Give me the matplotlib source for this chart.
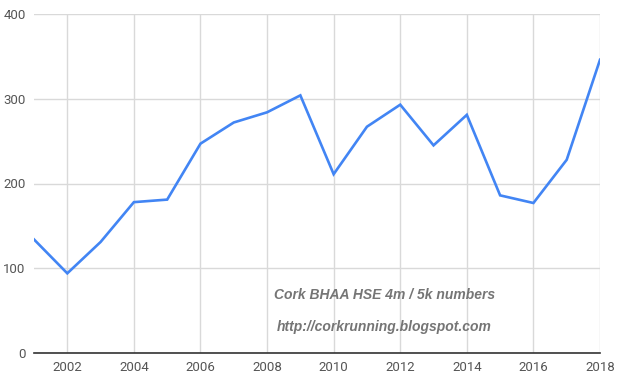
import matplotlib
matplotlib.use("Agg")
import matplotlib.pyplot as plt

# participant numbers per year
years = [2001, 2002, 2003, 2004, 2005, 2006, 2007, 2008, 2009,
         2010, 2011, 2012, 2013, 2014, 2015, 2016, 2017, 2018]
numbers = [134, 94, 131, 178, 181, 247, 272, 284, 304,
           211, 267, 293, 245, 281, 186, 177, 228, 346]
xticks = [2002, 2004, 2006, 2008, 2010, 2012, 2014, 2016, 2018]
yticks = [0, 100, 200, 300, 400]

plt.rcParams['font.family'] = ['Roboto', 'DejaVu Sans']

fig = plt.figure(figsize=(6.2, 3.78), dpi=100)
ax = fig.add_axes([34/620, 25/378, 566/620, 339/378])

ax.plot(years, numbers, color='#4285F4', linewidth=1.9, solid_joinstyle='miter', zorder=3)

ax.set_xlim(2001, 2018)
ax.set_ylim(0, 400)
ax.set_xticks(xticks)
ax.set_yticks(yticks)
ax.grid(True, color='#d9d9d9', linewidth=1)
ax.set_axisbelow(True)

for s in ['top', 'right', 'left']:
    ax.spines[s].set_visible(False)
ax.spines['bottom'].set_color('#333333')
ax.spines['bottom'].set_linewidth(1.2)
ax.spines['bottom'].set_zorder(4)
ax.tick_params(length=0, labelsize=9.5, labelcolor='#555555', pad=6)
for lab in ax.get_yticklabels():
    lab.set_horizontalalignment('right')

# watermark-style notes inside the plot
ax.text(2011.53, 68, 'Cork BHAA HSE 4m / 5k numbers', ha='center', va='center',
        fontsize=10, fontweight='bold', style='italic', color='#757575',
        family=['Liberation Sans', 'DejaVu Sans'])
ax.text(2011.53, 31, 'http://corkrunning.blogspot.com', ha='center', va='center',
        fontsize=10, fontweight='bold', style='italic', color='#757575',
        family=['Liberation Sans', 'DejaVu Sans'])

fig.savefig('out.png', dpi=100)
